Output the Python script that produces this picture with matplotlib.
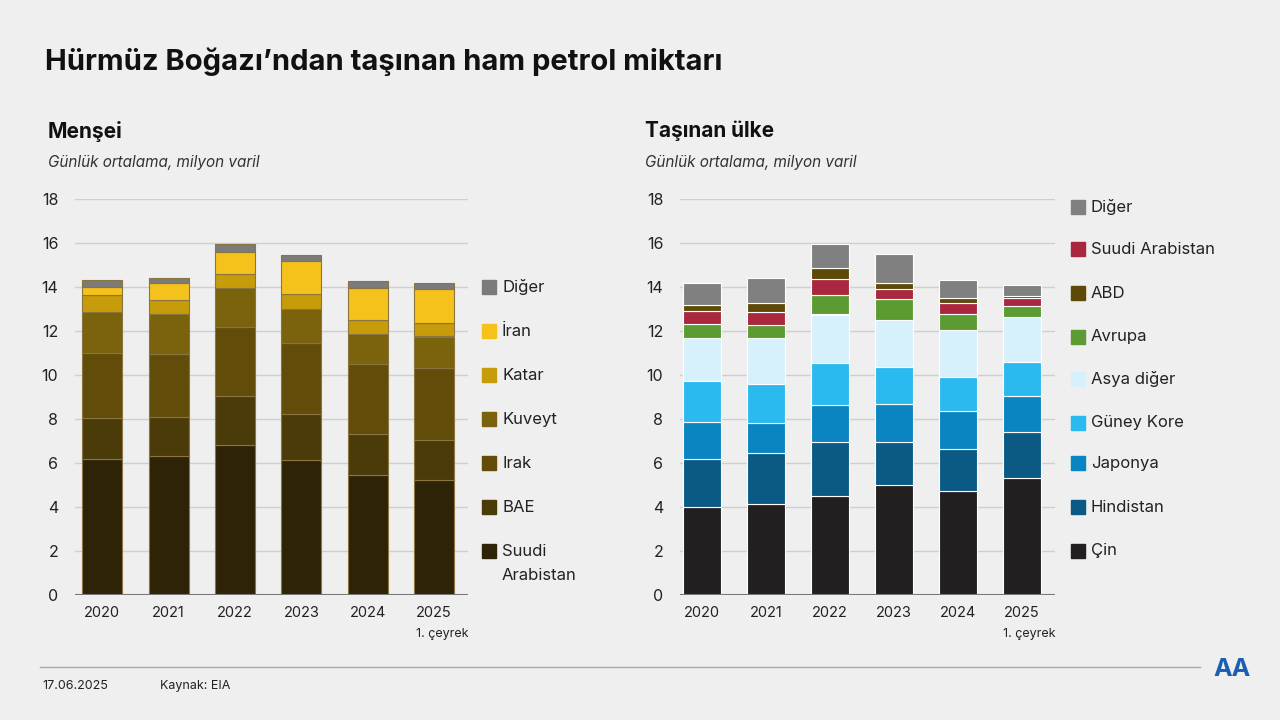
import matplotlib
matplotlib.use("Agg")
import matplotlib.pyplot as plt
import numpy as np

years = ["2020", "2021", "2022", "2023", "2024", "2025\n1. çeyrek"]

origin_names = ["Suudi\nArabistan", "BAE", "Irak", "Kuveyt", "Katar", "İran", "Diğer"]
suudi = [6.2, 6.3, 6.8, 6.15, 5.45, 5.25]
bae = [1.85, 1.8, 2.25, 2.1, 1.85, 1.8]
irak = [2.95, 2.85, 3.15, 3.2, 3.2, 3.25]
kuveyt = [1.85, 1.8, 1.75, 1.55, 1.35, 1.45]
katar = [0.8, 0.65, 0.65, 0.7, 0.65, 0.6]
iran = [0.35, 0.8, 1.0, 1.5, 1.45, 1.55]
diger_o = [0.3, 0.22, 0.35, 0.27, 0.33, 0.3]
origin_vals = [suudi, bae, irak, kuveyt, katar, iran, diger_o]
origin_cols = ["#2f2307", "#4b3b08", "#624c0a", "#7b620c", "#c69c0a", "#f5c21c", "#7b7b7b"]

dest_names = ["Çin", "Hindistan", "Japonya", "Güney Kore", "Asya diğer", "Avrupa", "Suudi Arabistan", "ABD", "Diğer"]
cin = [4.0, 4.15, 4.5, 5.0, 4.75, 5.3]
hindistan = [2.2, 2.3, 2.45, 1.95, 1.9, 2.1]
japonya = [1.65, 1.35, 1.7, 1.75, 1.7, 1.65]
guney_kore = [1.9, 1.8, 1.9, 1.65, 1.55, 1.55]
asya_diger = [1.95, 2.1, 2.2, 2.15, 2.15, 2.05]
avrupa = [0.6, 0.55, 0.9, 0.95, 0.7, 0.5]
suudi_d = [0.6, 0.6, 0.7, 0.45, 0.53, 0.35]
abd = [0.28, 0.43, 0.5, 0.28, 0.22, 0.1]
diger_d = [1.0, 1.13, 1.1, 1.3, 0.8, 0.5]
dest_vals = [cin, hindistan, japonya, guney_kore, asya_diger, avrupa, suudi_d, abd, diger_d]
dest_cols = ["#231f20", "#0b5a85", "#0a85c2", "#2abaf0", "#d6f1fb", "#5b9b31", "#a9283f", "#5e4a08", "#808080"]
# legend order, bottom to top
dest_legend = [0, 1, 2, 3, 4, 5, 7, 6, 8]

FONT = "Inter"
plt.rcParams["font.family"] = FONT
BG = "#efefef"
fig = plt.figure(figsize=(12.8, 7.2), dpi=100, facecolor=BG)

def px(x, y):
    return x / 1280, 1 - y / 720

def draw(ax_rect, vals, cols, edge, xl, w):
    ax = fig.add_axes(ax_rect, facecolor=BG)
    x = np.arange(len(years))
    bottom = np.zeros(len(years))
    for v, c in zip(vals, cols):
        ax.bar(x, v, w, bottom=bottom, color=c, edgecolor=edge, linewidth=0.8, zorder=3)
        bottom += np.array(v)
    ax.set_ylim(0, 18)
    ax.set_xlim(*xl)
    ax.set_yticks(range(0, 19, 2))
    ax.yaxis.grid(True, color="#cfcfcf", linewidth=1, zorder=0)
    ax.set_xticks(x)
    ax.set_xticklabels([])
    for i, y in enumerate(years):
        parts = y.split("\n")
        ax.text(i, -0.5, parts[0], ha="center", va="top", fontsize=10.5, color="#222")
        if len(parts) > 1:
            ax.text(i + 0.12, -1.5, parts[1], ha="center", va="top", fontsize=9, color="#222")
    ax.tick_params(length=0, labelsize=11.5, colors="#222", pad=12)
    for s in ax.spines.values():
        s.set_visible(False)
    ax.axhline(0, color="#777", linewidth=1.5, zorder=4)
    return ax

draw([75/1280, 125/720, 393/1280, 396/720], origin_vals, origin_cols, "#8a7440", (-0.41, 5.51), 0.6)
draw([680/1280, 125/720, 375/1280, 396/720], dest_vals, dest_cols, "white", (-0.34, 5.52), 0.6)

fig.text(*px(45, 62), "Hürmüz Boğazı’ndan taşınan ham petrol miktarı", fontsize=21, fontweight="bold", va="center", color="#111")
fig.text(*px(48, 131), "Menşei", fontsize=15, fontweight="bold", va="center", color="#111")
fig.text(*px(48, 162), "Günlük ortalama, milyon varil", fontsize=11, style="italic", va="center", color="#333")
fig.text(*px(645, 131), "Taşınan ülke", fontsize=15, fontweight="bold", va="center", color="#111")
fig.text(*px(645, 162), "Günlük ortalama, milyon varil", fontsize=11, style="italic", va="center", color="#333")

def legend(xsq, ys, names, cols):
    for y, n, c in zip(ys, names, cols):
        x0, y0 = px(xsq, y + 7)
        fig.patches.append(plt.Rectangle((x0, y0), 14/1280, 14/720, transform=fig.transFigure, color=c, figure=fig))
        if "\n" in n:
            fig.text(*px(xsq + 20, y), n.split("\n")[0], fontsize=12, va="center", color="#222")
            fig.text(*px(xsq + 20, y + 25), n.split("\n")[1], fontsize=12, va="center", color="#222")
        else:
            fig.text(*px(xsq + 20, y), n, fontsize=12, va="center", color="#222")

legend(482, [551, 507, 463, 419, 375, 331, 287], origin_names, origin_cols)
legend(1071, [551, 507, 463, 423, 379, 337, 293, 249, 207],
       [dest_names[i] for i in dest_legend], [dest_cols[i] for i in dest_legend])

line = plt.Line2D([40/1280, 1200/1280], [1 - 667/720] * 2, transform=fig.transFigure, color="#aaa", linewidth=1)
fig.lines.append(line)
fig.text(*px(42, 686), "17.06.2025", fontsize=9, va="center", color="#222")
fig.text(*px(160, 686), "Kaynak: EIA", fontsize=9, va="center", color="#222")
fig.text(*px(1232, 670), "AA", fontsize=18, fontweight="bold", ha="center", va="center", color="#1a5fb4")

fig.savefig("out.png", dpi=100, facecolor=BG)
